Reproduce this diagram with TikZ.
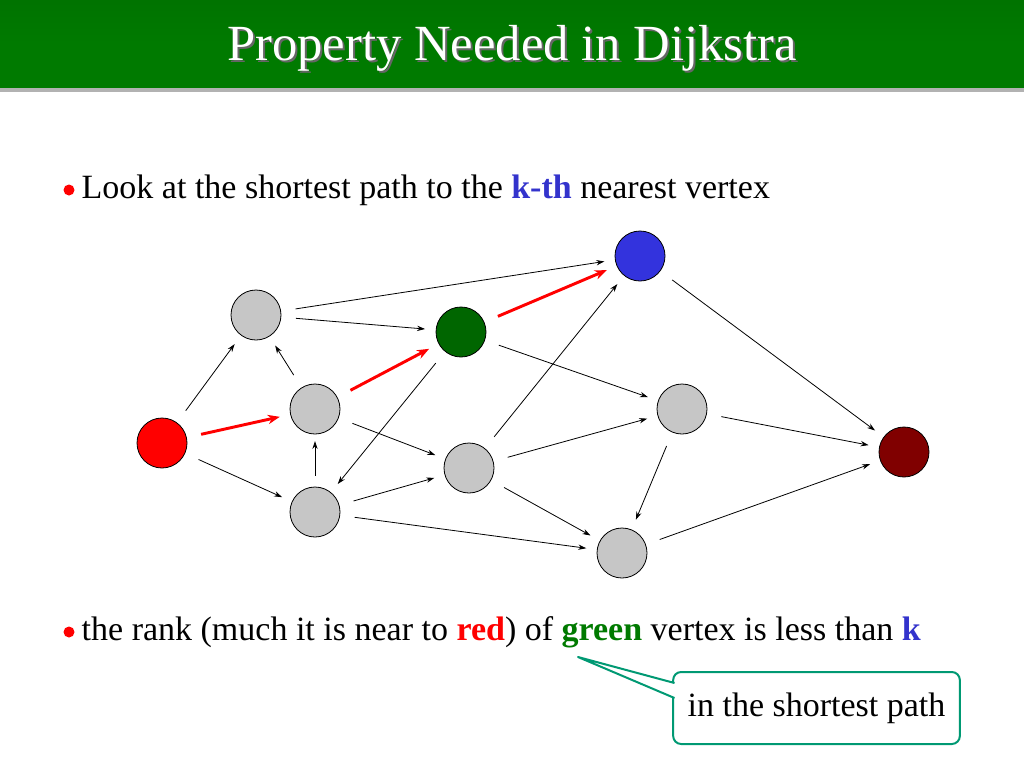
\documentclass[tikz,border=0pt]{standalone}
\usepackage{fontspec}
\setmainfont{Liberation Serif}
\usetikzlibrary{arrows.meta}
\definecolor{tgreen}{HTML}{007A00}
\definecolor{kblue}{HTML}{3333CC}
\definecolor{vgreen}{HTML}{006600}
\definecolor{vblue}{HTML}{3333DD}
\definecolor{vdred}{HTML}{800000}
\definecolor{teal}{HTML}{009973}
\begin{document}
\begin{tikzpicture}[x=0.75pt,y=-0.75pt,
  v/.style={circle,draw=black,line width=0.6pt,minimum size=37.5pt,inner sep=0pt},
  e/.style={-{Stealth[length=6pt,width=4pt]},line width=0.6pt},
  re/.style={-{Stealth[length=9pt,width=7pt]},line width=2.2pt,red}]
\useasboundingbox (0,0) rectangle (1024,768);
\fill[gray!60] (0,86) rectangle (1024,92);
\shade[top color=green!45!black,bottom color=tgreen,middle color=tgreen] (0,0) rectangle (1024,87);
\node[text=black!60,font=\fontsize{38}{44}\selectfont] at (514,50) {Property Needed in Dijkstra};
\node (title) [text=white,font=\fontsize{38}{44}\selectfont] at (512,48) {Property Needed in Dijkstra};
% bullets
\fill[red] (69,190) circle (5.5);
\node (l1) [anchor=west,font=\fontsize{25.5}{30}\selectfont] at (77,190) {Look at the shortest path to the \textbf{\color{kblue}k-th} nearest vertex};
\fill[red] (69,632) circle (5.5);
\node (l2) [anchor=west,font=\fontsize{25.5}{30}\selectfont] at (77,632) {the rank (much it is near to \textbf{\color{red}red}) of \textbf{\color{tgreen}green} vertex is less than \textbf{\color{kblue}k}};
% vertices
\node[v,fill=gray!45] (A) at (256,315) {};
\node[v,fill=gray!45] (B) at (315,409) {};
\node[v,fill=red] (R) at (162,443) {};
\node[v,fill=gray!45] (C) at (315,512) {};
\node[v,fill=vgreen] (G) at (461,332) {};
\node[v,fill=gray!45] (D) at (469,468) {};
\node[v,fill=vblue] (Bl) at (640,256) {};
\node[v,fill=gray!45] (E) at (682,409) {};
\node[v,fill=gray!45] (F) at (622,553) {};
\node[v,fill=vdred] (M) at (904,452) {};
\tikzset{s/.style={shorten <=11pt,shorten >=8pt}}
\draw[e,s] (R) -- (A);
\draw[e,s] (R) -- (C);
\draw[re,s] (R) -- (B);
\draw[e,s] (B) -- (A);
\draw[e,shorten <=8pt,shorten >=5pt] (C) -- (B);
\draw[e,s] (A) -- (Bl);
\draw[e,s] (A) -- (G);
\draw[re,s] (B) -- (G);
\draw[re,s] (G) -- (Bl);
\draw[e,s] (G) -- (C);
\draw[e,s] (G) -- (E);
\draw[e,s] (B) -- (D);
\draw[e,s] (C) -- (D);
\draw[e,s] (C) -- (F);
\draw[e,s] (D) -- (Bl);
\draw[e,s] (D) -- (E);
\draw[e,s] (D) -- (F);
\draw[e,s] (E) -- (F);
\draw[e,s] (E) -- (M);
\draw[e,s] (F) -- (M);
\draw[e,s] (Bl) -- (M);
% callout
\coordinate (tip) at (578,657);
\node (call) [draw=teal,line width=1.5pt,rounded corners=6pt,fill=white,minimum width=215pt,minimum height=54pt,font=\fontsize{25.5}{30}\selectfont] at (816.5,708) {in the shortest path};
\fill[white] (tip) -- (675,683) -- (675,698) -- cycle;
\draw[teal,line width=1.5pt,line join=round] (674.5,683) -- (tip) -- (674.5,698);
\end{tikzpicture}
\end{document}
